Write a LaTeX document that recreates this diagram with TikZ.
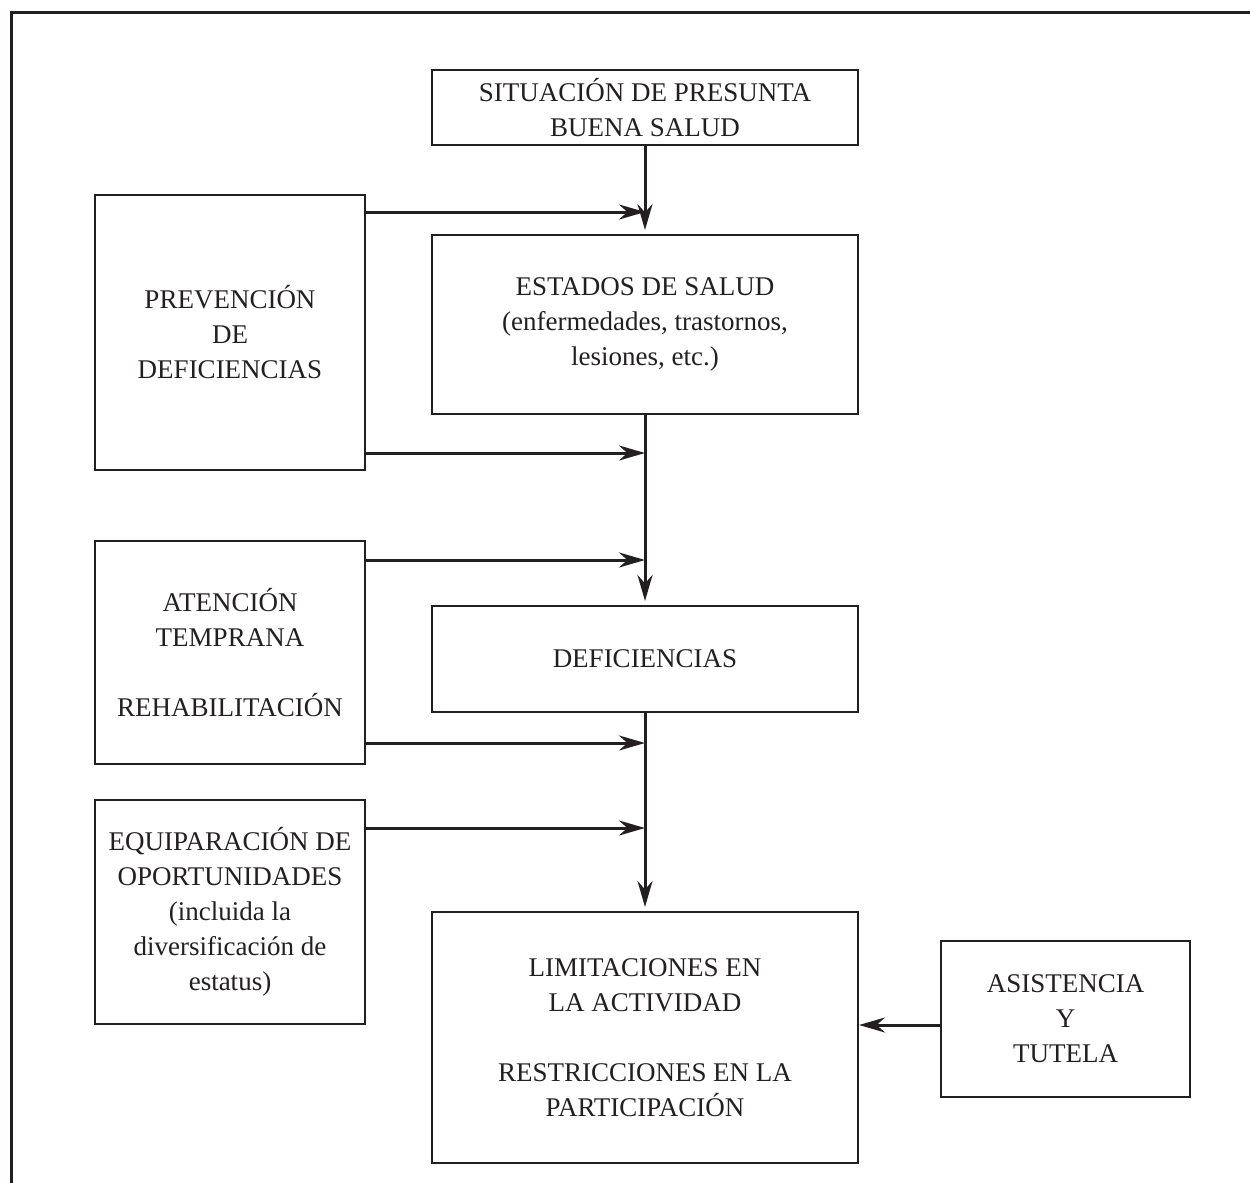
\documentclass[tikz,border=0pt]{standalone}
\usepackage{fontspec}
\setmainfont{Liberation Serif}
\usetikzlibrary{positioning, arrows.meta}
\definecolor{ink}{HTML}{231F20}
\tikzstyle{mainbox} = [rectangle, minimum width=426pt, text centered, align=center, draw=ink, line width=2pt, text=ink, font=\fontsize{27}{35}\selectfont]
\tikzstyle{sidebox} = [mainbox, minimum width=270pt]
\tikzstyle{arrow} = [-{Stealth[length=26pt,width=15pt]}, line width=3pt, draw=ink]

\begin{document}
\begin{tikzpicture}[x=1pt, y=1pt, node distance=88pt]
    \useasboundingbox (0,0) rectangle (1250,-1183);
    \draw [ink, line width=3pt] (11,-1183) -- (11,-12) -- (1250,-12);

    \node (sit)  [mainbox, minimum height=75pt] at (645,-107.5)
      {SITUACIÓN DE PRESUNTA\\BUENA SALUD};
    \node (est)  [mainbox, minimum height=179pt, below=88pt of sit]
      {ESTADOS DE SALUD\\(enfermedades, trastornos,\\lesiones, etc.)};
    \node (defi) [mainbox, minimum height=106pt, below=190pt of est]
      {DEFICIENCIAS};
    \node (lim)  [mainbox, minimum height=251pt, below=198pt of defi]
      {LIMITACIONES EN\\LA ACTIVIDAD\\[35pt]RESTRICCIONES EN LA\\PARTICIPACIÓN};

    \node (prev) [sidebox, minimum height=275pt] at (230,-332.5)
      {PREVENCIÓN\\DE\\DEFICIENCIAS};
    \node (aten) [sidebox, minimum height=223pt] at (230,-652.5)
      {ATENCIÓN\\TEMPRANA\\[35pt]REHABILITACIÓN};
    \node (equi) [sidebox, minimum height=224pt] at (230,-912)
      {EQUIPARACIÓN DE\\OPORTUNIDADES\\(incluida la\\diversificación de\\estatus)};
    \node (asis) [mainbox, minimum width=249pt, minimum height=156pt] at (1065.5,-1019)
      {ASISTENCIA\\Y\\TUTELA};

    \coordinate (p1) at ([yshift=-18pt]prev.north east);
    \coordinate (p2) at ([yshift=18pt]prev.south east);
    \coordinate (a1) at ([yshift=-20pt]aten.north east);
    \coordinate (a2) at ([yshift=22pt]aten.south east);
    \coordinate (e1) at ([yshift=-29pt]equi.north east);
    \coordinate (t1) at ([yshift=-6pt]asis.west);

    \draw [arrow, shorten >=4pt] (sit)  -- (est);
    \draw [arrow, shorten >=4pt] (est)  -- (defi);
    \draw [arrow, shorten >=4pt] (defi) -- (lim);
    \draw [arrow] (p1) -- (p1 -| sit.south);
    \draw [arrow] (p2) -- (p2 -| sit.south);
    \draw [arrow] (a1) -- (a1 -| sit.south);
    \draw [arrow] (a2) -- (a2 -| sit.south);
    \draw [arrow] (e1) -- (e1 -| sit.south);
    \draw [arrow] (t1) -- (t1 -| lim.east);
\end{tikzpicture}
\end{document}
